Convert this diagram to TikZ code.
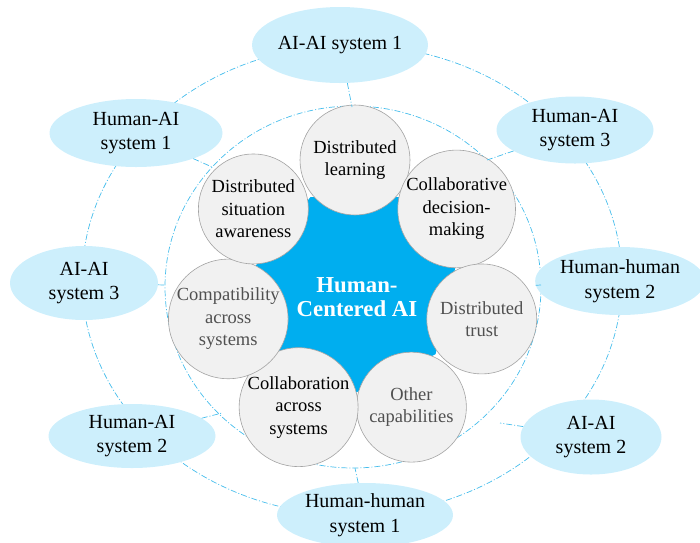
\documentclass[tikz,border=0pt]{standalone}
\usepackage{fontspec}
\setmainfont{LiberationSerif}[Extension=.ttf, UprightFont=*-Regular, BoldFont=*-Bold, ItalicFont=*-Italic, BoldItalicFont=*-BoldItalic]
\usepackage{tikz}
\usetikzlibrary{shapes,calc}
\definecolor{hcblue}{HTML}{00AEEF}
\definecolor{sysfill}{HTML}{CDEFFC}
\definecolor{ringblue}{HTML}{45BDEC}
\definecolor{capfill}{HTML}{F1F1F1}
\definecolor{capline}{HTML}{A3A3A3}
\definecolor{captext}{HTML}{505050}

\begin{document}
\begin{tikzpicture}[x=1pt, y=-1pt,
  link/.style={ringblue, line width=0.7pt, dash pattern=on 6pt off 2pt on 1pt off 2pt},
  sys node/.style={ellipse, fill=sysfill, inner sep=0, align=center, font=\fontsize{20pt}{24.5pt}\selectfont},
  cap node/.style={circle, fill=capfill, draw=capline, line width=0.6pt, minimum size=110pt, inner sep=0, align=center, font=\fontsize{18.5pt}{22.5pt}\selectfont},
  hub node/.style={regular polygon, regular polygon sides=7, shape border rotate=25.71, minimum size=206pt, inner sep=0, fill=hcblue}]
\useasboundingbox (0,0) rectangle (700,542);

% rings
\draw[link] (352,280) ellipse [x radius=270pt, y radius=235pt];
\draw[link] (353,287) ellipse [x radius=188pt, y radius=181pt];

% centre
\coordinate (hub) at (355,290);
\node[hub node] (core) at (hub) {};
\foreach \name/\ang/\txt/\col in {
  dl/90/{Distributed\\learning}/black,
  cdm/38.57/{Collaborative\\decision-\\making}/black,
  dt/-12.86/{Distributed\\trust}/captext,
  oc/-64.29/{Other\\capabilities}/captext,
  cas/-115.71/{Collaboration\\across\\systems}/black,
  cmp/-167.14/{Compatibility\\across\\systems}/captext,
  dsa/141.43/{Distributed\\situation\\awareness}/black}
  \node[cap node, text=\col] (\name) at ($(hub)+(\ang:130pt)$) {\txt};
\node[text=white, align=center, font=\fontsize{22.8pt}{24.3pt}\selectfont\bfseries] (hcai) at (357,297) {Human-\\Centered AI};

% outer systems
\node[sys node, minimum width=174pt, minimum height=76pt] (aa1) at (340,45) {AI-AI system 1};
\node[sys node, minimum width=173pt, minimum height=68pt] (ha1) at (136,133) {Human-AI\\system 1};
\node[sys node, minimum width=157pt, minimum height=67pt] (ha3) at (575,130) {Human-AI\\system 3};
\node[sys node, minimum width=148pt, minimum height=74pt] (aa3) at (84,283) {AI-AI\\system 3};
\node[sys node, minimum width=146pt, minimum height=68pt] (hh2) at (620,281) {Human-human\\system 2};
\node[sys node, minimum width=167pt, minimum height=64pt] (ha2) at (132,436) {Human-AI\\system 2};
\node[sys node, minimum width=141pt, minimum height=75pt] (aa2) at (591,437) {AI-AI\\system 2};
\node[sys node, minimum width=176pt, minimum height=64pt] (hh1) at (365,515) {Human-human\\system 1};

\coordinate (r1) at (352,107);
\coordinate (r2) at (212,167);
\coordinate (r3) at (487,160);
\coordinate (r4) at (165,285);
\coordinate (r5) at (541,285);
\coordinate (r6) at (222,413);
\coordinate (r7) at (500,423);
\coordinate (r8) at (355,468);

\draw[link] (aa1) -- (r1) (ha1) -- (r2) (ha3) -- (r3) (aa3) -- (r4)
  (hh2) -- (r5) (ha2) -- (r6) (aa2) -- (r7) (hh1) -- (r8);
\end{tikzpicture}
\end{document}
